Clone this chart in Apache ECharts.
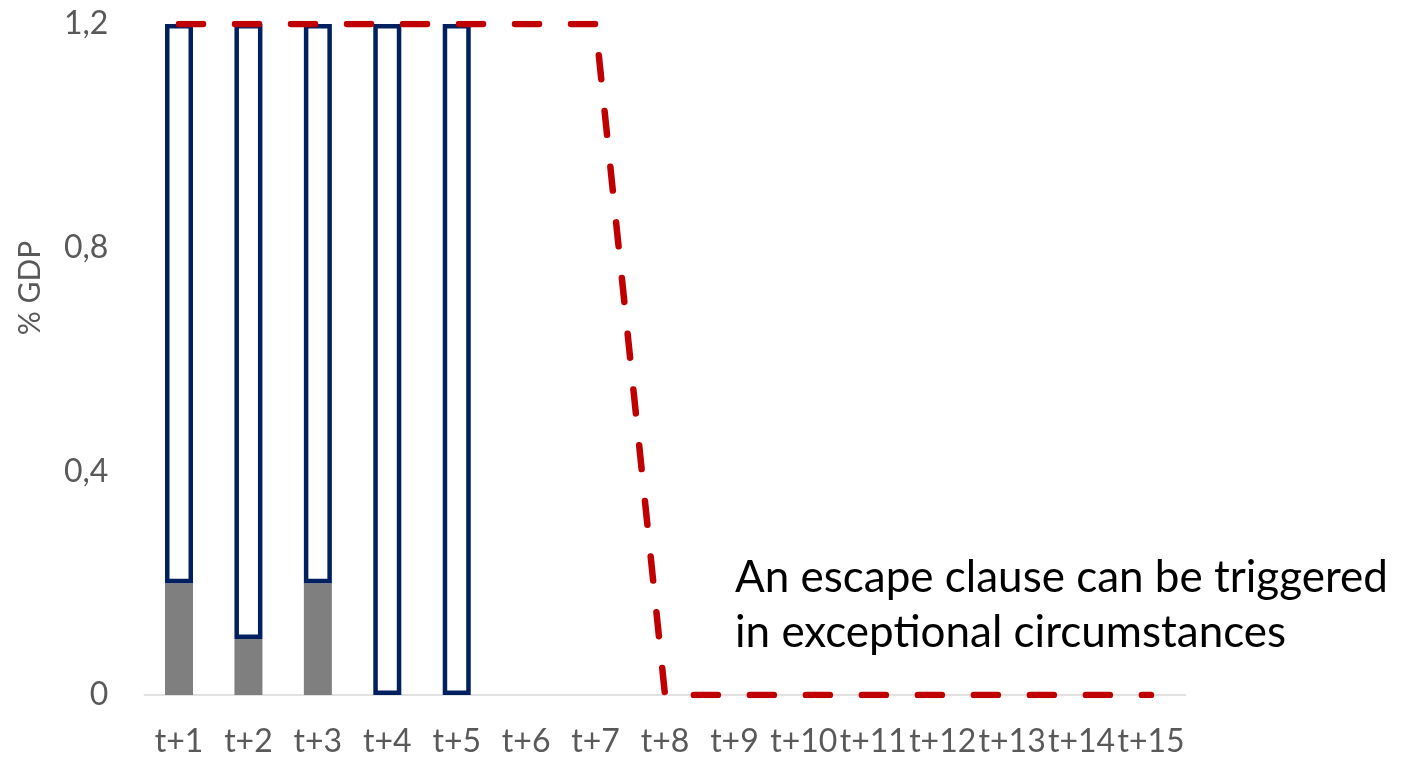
<!DOCTYPE html>
<html>
<head>
<meta charset="utf-8">
<script src="https://cdn.jsdelivr.net/npm/echarts@6/dist/echarts.min.js"></script>
<style>
html,body{margin:0;padding:0;background:#fff;}
#chart{width:1414px;height:758px;}
</style>
</head>
<body>
<div id="chart"></div>
<script>
var categories = ['t+1','t+2','t+3','t+4','t+5','t+6','t+7','t+8','t+9','t+10','t+11','t+12','t+13','t+14','t+15'];
var grayValues = [0.2, 0.1, 0.2, 0, 0, null, null, null, null, null, null, null, null, null, null];
var whiteValues = [1.0, 1.1, 1.0, 1.2, 1.2, null, null, null, null, null, null, null, null, null, null];
var ruleValues = [1.2, 1.2, 1.2, 1.2, 1.2, 1.2, 1.2, 0, 0, 0, 0, 0, 0, 0, 0];
var yTicks = [0, 0.4, 0.8, 1.2];
var yAxisName = '% GDP';
var noteLines = ['An escape clause can be triggered', 'in exceptional circumstances'];

var chart = echarts.init(document.getElementById('chart'));
chart.setOption({
  animation: false,
  backgroundColor: '#ffffff',
  grid: {left: 144.3, right: 228.3, top: 24, bottom: 62.5, containLabel: false},
  xAxis: {
    type: 'category',
    data: categories,
    axisLine: {lineStyle: {color: '#d9d9d9', width: 1.5}},
    axisTick: {show: false},
    axisLabel: {interval: 0, color: '#595959', fontFamily: 'Lato', fontSize: 32, margin: 31}
  },
  yAxis: {
    type: 'value',
    min: yTicks[0],
    max: yTicks[yTicks.length - 1],
    interval: yTicks[1] - yTicks[0],
    axisLine: {show: false},
    axisTick: {show: false},
    splitLine: {show: false},
    axisLabel: {
      color: '#595959', fontFamily: 'Lato', fontSize: 32, margin: 36,
      formatter: function (v) { return v === 0 ? '0' : (Math.round(v * 10) / 10).toFixed(1).replace('.', ','); }
    }
  },
  graphic: [
    {type: 'text', x: 30, y: 288, rotation: Math.PI / 2,
     style: {text: yAxisName, fill: '#595959', font: '30px Lato', align: 'center', verticalAlign: 'middle'}},
    {type: 'text', x: 735, y: 578,
     style: {text: noteLines[0], fill: '#000000', font: '44px Lato', align: 'left', verticalAlign: 'middle'}},
    {type: 'text', x: 735, y: 633,
     style: {text: noteLines[1], fill: '#000000', font: '44px Lato', align: 'left', verticalAlign: 'middle'}}
  ],
  series: [
    {type: 'bar', stack: 'a', data: grayValues, barWidth: 28,
     itemStyle: {color: '#7f7f7f'}},
    {type: 'bar', stack: 'a', data: whiteValues, barWidth: 28,
     itemStyle: {color: '#ffffff', borderColor: '#002060', borderWidth: 4.5}},
    {type: 'line', data: ruleValues, symbol: 'none', z: 5,
     lineStyle: {color: '#c00000', width: 6.5, type: [24, 32], cap: 'round', join: 'round'}}
  ]
});
</script>
</body>
</html>
